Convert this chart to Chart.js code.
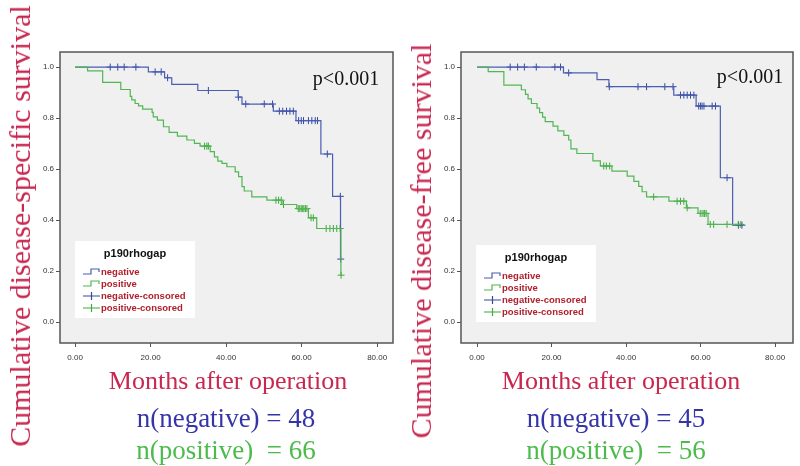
<!DOCTYPE html>
<html>
<head>
<meta charset="utf-8">
<script src="https://cdn.jsdelivr.net/npm/chart.js@4.4.0/dist/chart.umd.min.js"></script>
<style>
body { margin: 0; background: #fff; }
#wrap { position: relative; width: 800px; height: 466px; overflow: hidden; }
canvas { position: absolute; top: 0; }
.lbl { position: absolute; font-family: 'Liberation Serif', serif; white-space: nowrap; transform: translate(-50%, -50%); line-height: 1; }
.ytitle { transform: translate(-50%, -50%) rotate(-90deg); }
</style>
</head>
<body>
<div id="wrap">
  <canvas id="dss" width="400" height="466" style="left:0"></canvas>
  <canvas id="dfs" width="400" height="466" style="left:400px"></canvas>

  <div class="lbl ytitle" style="left:20px;top:226px;font-size:30px;color:#c8284f">Cumulative disease-specific survival</div>
  <div class="lbl ytitle" style="left:421px;top:241px;font-size:30px;color:#c8284f">Cumulative disease-free survival</div>

  <div class="lbl" style="left:346px;top:78px;font-size:20px;color:#111">p&lt;0.001</div>
  <div class="lbl" style="left:750px;top:76px;font-size:20px;color:#111">p&lt;0.001</div>

  <div class="lbl" style="left:228px;top:381px;font-size:26px;color:#c8284f">Months after operation</div>
  <div class="lbl" style="left:621px;top:381px;font-size:26px;color:#c8284f">Months after operation</div>

  <div class="lbl" style="left:226px;top:418px;font-size:27px;color:#3535a8">n(negative) = 48</div>
  <div class="lbl" style="left:226px;top:450px;font-size:27px;color:#4cbb4c">n(positive)&nbsp; = 66</div>
  <div class="lbl" style="left:616px;top:418px;font-size:27px;color:#3535a8">n(negative) =&nbsp;45</div>
  <div class="lbl" style="left:616px;top:450px;font-size:27px;color:#4cbb4c">n(positive)&nbsp; =&nbsp;56</div>
</div>
<script>
// axis ticks
const xTicks = [0, 20, 40, 60, 80]
const yTicks = [0, 0.2, 0.4, 0.6, 0.8, 1.0]

// disease-specific survival (left)
const dssNegTimes = [0, 19.4, 23.7, 25.6, 32.5, 43.2, 44.2, 52.5, 58.5, 65.1, 68.2, 70.3]
const dssNegSurv = [1, 0.981, 0.958, 0.932, 0.908, 0.882, 0.855, 0.827, 0.79, 0.659, 0.493, 0.247]
const dssNegCensor = [9.3, 11.3, 13.0, 16.1, 21.2, 22.8, 24.5, 35.3, 43.25, 45.2, 50.1, 52.3, 54.1, 55.0, 56.0, 56.9, 57.8,
    59.2, 59.9, 60.5, 61.8, 62.7, 63.6, 64.2, 66.8, 70.25, 70.35]
const dssPosTimes = [0, 3.3, 7.3, 12.1, 14.6, 15.0, 15.9, 16.8, 17.9, 20.4, 20.7, 21.8, 23.4, 24.9, 27.1, 29.6, 31.6, 33.1,
    35.8, 36.9, 37.8, 38.9, 40.2, 42.4, 43.3, 44.2, 44.8, 46.8, 50.8, 54.8, 58.7, 61.8, 64.0, 70.4]
const dssPosSurv = [1, 0.985, 0.94, 0.912, 0.885, 0.871, 0.857, 0.848, 0.835, 0.822, 0.805, 0.792, 0.766, 0.744, 0.729, 0.714, 0.701, 0.69,
    0.668, 0.648, 0.631, 0.622, 0.609, 0.589, 0.57, 0.531, 0.514, 0.491, 0.478, 0.461, 0.445, 0.409, 0.367, 0.184]
const dssPosCensor = [34.3, 34.9, 35.3, 53.2, 53.9, 54.6, 55.2, 59.1, 59.5, 59.9, 60.3, 60.6, 61.0, 61.4, 62.5, 63.1,
    66.5, 67.5, 68.4, 69.3, 70.2, 70.45]

// disease-free survival (right)
const dfsNegTimes = [0, 23.2, 32.2, 35.4, 52.8, 58.8, 65.3, 68.6]
const dfsNegSurv = [1, 0.977, 0.951, 0.923, 0.89, 0.847, 0.566, 0.38]
const dfsNegCensor = [8.9, 10.9, 12.7, 15.9, 20.9, 22.4, 24.6, 35.5, 43.2, 45.5, 50.4, 52.6, 54.6, 55.5, 56.4, 57.3, 58.2,
    59.5, 60.0, 60.4, 60.9, 63.1, 64.0, 67.1, 70.2, 71.1]
const dfsPosTimes = [0, 3.0, 7.2, 11.9, 13.0, 13.7, 14.6, 16.1, 16.8, 17.6, 18.3, 20.4, 21.7, 23.3, 24.6, 25.2, 26.8, 31.1,
    33.1, 36.2, 40.3, 42.1, 43.4, 44.3, 45.5, 51.5, 56.2, 59.3, 62.0]
const dfsPosSurv = [1, 0.982, 0.929, 0.911, 0.893, 0.875, 0.857, 0.839, 0.821, 0.804, 0.786, 0.768, 0.75, 0.732, 0.714, 0.679, 0.661, 0.632,
    0.612, 0.592, 0.572, 0.552, 0.532, 0.511, 0.491, 0.474, 0.448, 0.426, 0.383]
const dfsPosCensor = [34.0, 34.7, 35.6, 47.4, 53.7, 54.6, 55.5, 56.4, 59.9, 60.4, 60.9, 61.1, 61.5, 62.6, 63.5, 67.1, 70.1, 70.8]

const legendLabels = ['negative', 'positive', 'negative-consored', 'positive-consored']
const legendTitle = 'p190rhogap'

const BLUE = '#4a5db2'
const BLUE_DARK = '#34489f'
const GREEN = '#52b652'
const GREEN_DARK = '#3fa83f'

//survival value at time t (step function)
function survAt(times, surv, t) {
    let s = surv[0]
    for (let i = 0; i < times.length; i++) {
        if (times[i] <= t) s = surv[i]
    }
    return s
}

function curve(times, surv, censor) {
    let pts = times.map((t, i) => ({ x: t, y: surv[i] }))
    let end = Math.max(...censor)
    if (end > times[times.length - 1]) pts.push({ x: end, y: surv[surv.length - 1] })
    return pts
}

function marks(times, surv, censor) {
    return censor.map(t => ({ x: t, y: survAt(times, surv, t) }))
}

//plot background, frame and the legend box
const kmDecor = {
    id: 'kmDecor',
    beforeDraw(chart) {
        const { ctx, chartArea: a } = chart
        ctx.save()
        ctx.fillStyle = '#f0f0f0'
        ctx.fillRect(a.left, a.top, a.right - a.left, a.bottom - a.top)
        ctx.restore()
    },
    afterDraw(chart, args, opts) {
        const { ctx, chartArea: a } = chart
        ctx.save()
        ctx.strokeStyle = '#555'
        ctx.lineWidth = 1.5
        ctx.strokeRect(a.left, a.top, a.right - a.left, a.bottom - a.top)

        // legend
        const lx = a.left + 15, ly = opts.top, lw = 120, lh = 77
        ctx.fillStyle = '#fff'
        ctx.fillRect(lx, ly, lw, lh)
        ctx.fillStyle = '#111'
        ctx.font = 'bold 11px "Liberation Sans", Arial, sans-serif'
        ctx.textAlign = 'center'
        ctx.textBaseline = 'middle'
        ctx.fillText(legendTitle, lx + lw / 2, ly + 13)
        const colors = [BLUE, GREEN, BLUE_DARK, GREEN_DARK]
        ctx.textAlign = 'left'
        ctx.font = 'bold 9.5px "Liberation Sans", Arial, sans-serif'
        for (let i = 0; i < legendLabels.length; i++) {
            let y = ly + 31 + i * 12
            let sx = lx + 8
            ctx.strokeStyle = colors[i]
            ctx.lineWidth = 1.2
            ctx.beginPath()
            if (i < 2) {
                ctx.moveTo(sx, y + 2)
                ctx.lineTo(sx + 8, y + 2)
                ctx.lineTo(sx + 8, y - 3)
                ctx.lineTo(sx + 16, y - 3)
                ctx.lineTo(sx + 16, y)
            } else {
                ctx.moveTo(sx, y)
                ctx.lineTo(sx + 17, y)
                ctx.moveTo(sx + 8.5, y - 4)
                ctx.lineTo(sx + 8.5, y + 4)
            }
            ctx.stroke()
            ctx.fillStyle = '#b0202c'
            ctx.fillText(legendLabels[i], sx + 18, y)
        }
        ctx.restore()
    }
}

function makeChart(id, negT, negS, negC, posT, posS, posC, xMin, xMax, padLeft, legendTop) {
    const tickFont = { family: '"Liberation Sans", Arial, sans-serif', size: 8 }
    return new Chart(document.getElementById(id), {
        type: 'line',
        data: {
            datasets: [
                {
                    data: curve(posT, posS, posC),
                    borderColor: GREEN,
                    borderWidth: 1.2,
                    stepped: true,
                    pointRadius: 0,
                    fill: false
                },
                {
                    data: curve(negT, negS, negC),
                    borderColor: BLUE,
                    borderWidth: 1.2,
                    stepped: true,
                    pointRadius: 0,
                    fill: false
                },
                {
                    data: marks(posT, posS, posC),
                    showLine: false,
                    pointStyle: 'cross',
                    pointRadius: 3.5,
                    pointBorderWidth: 1,
                    borderColor: GREEN_DARK
                },
                {
                    data: marks(negT, negS, negC),
                    showLine: false,
                    pointStyle: 'cross',
                    pointRadius: 3.5,
                    pointBorderWidth: 1,
                    borderColor: BLUE_DARK
                }
            ]
        },
        options: {
            responsive: false,
            animation: false,
            devicePixelRatio: 1,
            layout: { padding: { left: padLeft, right: 7, top: 52, bottom: 103 } },
            plugins: {
                legend: { display: false },
                tooltip: { enabled: false },
                kmDecor: { top: legendTop }
            },
            scales: {
                x: {
                    type: 'linear',
                    min: xMin,
                    max: xMax,
                    afterBuildTicks: s => { s.ticks = xTicks.map(v => ({ value: v })) },
                    afterFit: s => { s.height = 20 },
                    ticks: { callback: v => v.toFixed(2), font: tickFont, color: '#333', maxRotation: 0, padding: 6 },
                    grid: { drawOnChartArea: false, drawTicks: true, tickLength: 4, color: '#555' },
                    border: { display: false }
                },
                y: {
                    min: -0.082,
                    max: 1.059,
                    afterBuildTicks: s => { s.ticks = yTicks.map(v => ({ value: v })) },
                    afterFit: s => { s.width = 30 },
                    ticks: { callback: v => v.toFixed(1), font: tickFont, color: '#333', padding: 2 },
                    grid: { drawOnChartArea: false, drawTicks: true, tickLength: 4, color: '#555' },
                    border: { display: false }
                }
            }
        },
        plugins: [kmDecor]
    })
}

makeChart('dss', dssNegTimes, dssNegSurv, dssNegCensor, dssPosTimes, dssPosSurv, dssPosCensor, -4, 84.2, 30, 241)
makeChart('dfs', dfsNegTimes, dfsNegSurv, dfsNegCensor, dfsPosTimes, dfsPosSurv, dfsPosCensor, -4.3, 84.8, 31, 245)
</script>
</body>
</html>
